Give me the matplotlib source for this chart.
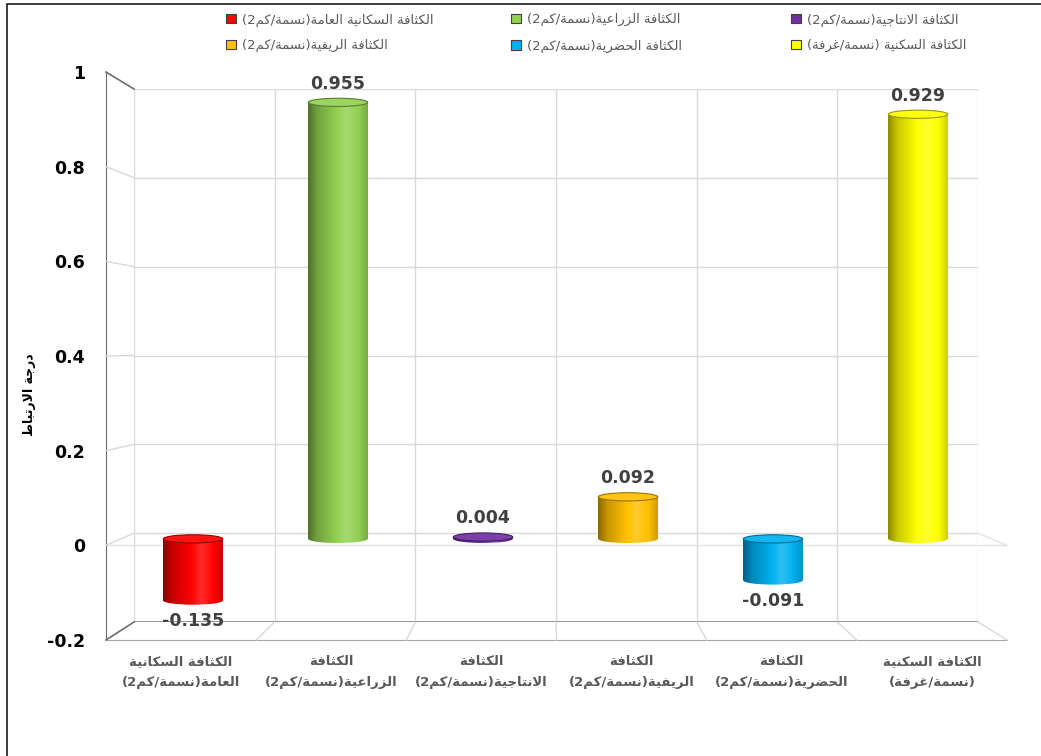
import numpy as np
import matplotlib
matplotlib.use('Agg')
import matplotlib.pyplot as plt
from matplotlib.patches import Ellipse, Patch, Rectangle
from matplotlib.lines import Line2D

# بيانات معاملات الارتباط
categories = [
    'الكثافة السكانية\nالعامة(نسمة/كم2)',
    'الكثافة\nالزراعية(نسمة/كم2)',
    'الكثافة\nالانتاجية(نسمة/كم2)',
    'الكثافة\nالريفية(نسمة/كم2)',
    'الكثافة\nالحضرية(نسمة/كم2)',
    'الكثافة السكنية\n(نسمة/غرفة)',
]
legend_names = [
    'الكثافة السكانية العامة(نسمة/كم2)',
    'الكثافة الزراعية(نسمة/كم2)',
    'الكثافة الانتاجية(نسمة/كم2)',
    'الكثافة الريفية(نسمة/كم2)',
    'الكثافة الحضرية(نسمة/كم2)',
    'الكثافة السكنية (نسمة/غرفة)',
]
values = [-0.135, 0.955, 0.004, 0.092, -0.091, 0.929]
colors = ['#FF0000', '#92D050', '#7030A0', '#FFC000', '#00B0F0', '#FFFF00']
yticks = [-0.2, 0, 0.2, 0.4, 0.6, 0.8, 1]
ytick_labels = ['-0.2', '0', '0.2', '0.4', '0.6', '0.8', '1']
ylabel = 'درجة الارتباط'

# ---- تشكيل الحروف العربية (matplotlib لا يدعم الوصل ولا الاتجاه) ----
FORMS = {
    'ا': (0xFE8D, 0xFE8E), 'أ': (0xFE83, 0xFE84), 'إ': (0xFE87, 0xFE88),
    'آ': (0xFE81, 0xFE82), 'ة': (0xFE93, 0xFE94), 'د': (0xFEA9, 0xFEAA),
    'ذ': (0xFEAB, 0xFEAC), 'ر': (0xFEAD, 0xFEAE), 'ز': (0xFEAF, 0xFEB0),
    'و': (0xFEED, 0xFEEE), 'ى': (0xFEEF, 0xFEF0),
    'ب': (0xFE8F, 0xFE90, 0xFE91, 0xFE92), 'ت': (0xFE95, 0xFE96, 0xFE97, 0xFE98),
    'ث': (0xFE99, 0xFE9A, 0xFE9B, 0xFE9C), 'ج': (0xFE9D, 0xFE9E, 0xFE9F, 0xFEA0),
    'ح': (0xFEA1, 0xFEA2, 0xFEA3, 0xFEA4), 'خ': (0xFEA5, 0xFEA6, 0xFEA7, 0xFEA8),
    'س': (0xFEB1, 0xFEB2, 0xFEB3, 0xFEB4), 'ش': (0xFEB5, 0xFEB6, 0xFEB7, 0xFEB8),
    'ص': (0xFEB9, 0xFEBA, 0xFEBB, 0xFEBC), 'ض': (0xFEBD, 0xFEBE, 0xFEBF, 0xFEC0),
    'ط': (0xFEC1, 0xFEC2, 0xFEC3, 0xFEC4), 'ظ': (0xFEC5, 0xFEC6, 0xFEC7, 0xFEC8),
    'ع': (0xFEC9, 0xFECA, 0xFECB, 0xFECC), 'غ': (0xFECD, 0xFECE, 0xFECF, 0xFED0),
    'ف': (0xFED1, 0xFED2, 0xFED3, 0xFED4), 'ق': (0xFED5, 0xFED6, 0xFED7, 0xFED8),
    'ك': (0xFED9, 0xFEDA, 0xFEDB, 0xFEDC), 'ل': (0xFEDD, 0xFEDE, 0xFEDF, 0xFEE0),
    'م': (0xFEE1, 0xFEE2, 0xFEE3, 0xFEE4), 'ن': (0xFEE5, 0xFEE6, 0xFEE7, 0xFEE8),
    'ه': (0xFEE9, 0xFEEA, 0xFEEB, 0xFEEC), 'ي': (0xFEF1, 0xFEF2, 0xFEF3, 0xFEF4),
}
MIRROR = {'(': ')', ')': '('}


def shape_line(s):
    out = []
    i = 0
    n = len(s)
    while i < n:
        c = s[i]
        if c not in FORMS:
            out.append(c)
            i += 1
            continue
        prev = s[i - 1] if i > 0 else None
        link_prev = prev in FORMS and len(FORMS[prev]) == 4
        if c == 'ل' and i + 1 < n and s[i + 1] == 'ا':
            out.append(chr(0xFEFC if link_prev else 0xFEFB))
            i += 2
            continue
        nxt = s[i + 1] if i + 1 < n else None
        link_next = len(FORMS[c]) == 4 and nxt in FORMS
        f = FORMS[c]
        if link_prev and link_next:
            g = f[3]
        elif link_prev:
            g = f[1]
        elif link_next:
            g = f[2]
        else:
            g = f[0]
        out.append(chr(g))
        i += 1
    # ترتيب العرض من اليمين إلى اليسار مع إبقاء الأرقام كما هي
    shaped = ''.join(out)
    runs = []
    i = 0
    while i < len(shaped):
        if shaped[i].isdigit():
            j = i
            while j < len(shaped) and shaped[j].isdigit():
                j += 1
            runs.append(shaped[i:j])
            i = j
        else:
            runs.append(MIRROR.get(shaped[i], shaped[i]))
            i += 1
    return ''.join(reversed(runs))


def ar(s):
    return '\n'.join(shape_line(line) for line in s.split('\n'))


def shade(c, f):
    c = np.array(matplotlib.colors.to_rgb(c))
    if f < 1:
        return c * f
    return c + (1 - c) * (f - 1)


def cyl_gradient(c, n=64):
    t = np.linspace(0, 1, n)
    fac = np.interp(t, [0, 0.15, 0.45, 0.65, 0.85, 1.0],
                    [0.55, 0.78, 0.98, 1.18, 1.0, 0.82])
    return np.array([[shade(c, f) for f in fac]])


plt.rcParams['font.family'] = ['DejaVu Sans']

W, H = 1041, 756
fig = plt.figure(figsize=(W / 100, H / 100), dpi=100)


def px_rect(left, top, right, bottom):
    return [left / W, 1 - bottom / H, (right - left) / W, (bottom - top) / H]


# الحدود الخارجية للمخطط
fig.add_artist(Rectangle((7 / W, -0.02), 1.0, 1 - 4 / H + 0.02,
                         transform=fig.transFigure, fill=False,
                         edgecolor='#1a1a1a', linewidth=1.2))

n = len(values)
xlim = (-0.5, n - 0.5)
ylim = (-0.2, 1.0)

# الجدار الخلفي
back = fig.add_axes(px_rect(134, 89, 978, 622))
back.set_xlim(xlim)
back.set_ylim(ylim)
back.axis('off')
for v in yticks[1:]:
    back.axhline(v, color='#d9d9d9', lw=1, zorder=1)
for k in range(n + 1):
    back.axvline(k - 0.5, color='#d9d9d9', lw=1, zorder=1)
back.axhline(-0.2, color='#808080', lw=1.2, zorder=2)

# المستوى الأمامي (عليه محور القيم وتسميات الفئات)
front = fig.add_axes(px_rect(106, 72, 1007, 640))
front.set_xlim(xlim)
front.set_ylim(ylim)
front.patch.set_alpha(0)
for sp in front.spines.values():
    sp.set_visible(False)
front.spines['left'].set_visible(True)
front.spines['left'].set_color('#6e6e6e')
front.spines['bottom'].set_visible(True)
front.spines['bottom'].set_color('#a6a6a6')
front.set_yticks(yticks)
front.set_yticklabels(ytick_labels, fontsize=12.5, fontweight='bold', color='black')
front.set_xticks(range(n))
front.set_xticklabels([ar(c) for c in categories], fontsize=9.5, fontweight='bold',
                      color='#595959', linespacing=1.8)
front.tick_params(axis='y', length=0, pad=15)
front.tick_params(axis='x', length=0, pad=11)
front.axhline(0, color='#e3e3e3', lw=1, zorder=1)


def to_fig(axes, x, y):
    return fig.transFigure.inverted().transform(axes.transData.transform((x, y)))


def link(x, y, color, lw=1.0):
    p0 = to_fig(front, x, y)
    p1 = to_fig(back, x, y)
    fig.add_artist(Line2D([p0[0], p1[0]], [p0[1], p1[1]], transform=fig.transFigure,
                          color=color, lw=lw, zorder=0.5))


# الجدار الجانبي والأرضية
for v in yticks[1:-1]:
    link(-0.5, v, '#d9d9d9')
link(-0.5, 1.0, '#6e6e6e', 1.2)
link(-0.5, -0.2, '#6e6e6e', 1.2)
for k in range(1, n + 1):
    link(k - 0.5, -0.2, '#d9d9d9')
link(n - 0.5, 0, '#e3e3e3')

# الأعمدة الأسطوانية
ax = fig.add_axes(px_rect(120.5, 81.8, 990.5, 630.3))
ax.patch.set_alpha(0)
ax.axis('off')
bw = 0.41
eh = 0.018
for i, (v, c) in enumerate(zip(values, colors)):
    lo, hi = min(0, v), max(0, v)
    grad = cyl_gradient(c)
    ax.imshow(grad, extent=(i - bw / 2, i + bw / 2, lo, hi), aspect='auto',
              interpolation='bilinear', zorder=3)
    bottom = Ellipse((i, lo), bw, eh, transform=ax.transData)
    im = ax.imshow(grad, extent=(i - bw / 2, i + bw / 2, lo - eh / 2, lo + eh / 2),
                   aspect='auto', interpolation='bilinear', zorder=3)
    im.set_clip_path(bottom)
    ax.add_patch(Ellipse((i, hi), bw, eh, facecolor=shade(c, 1.08),
                         edgecolor=shade(c, 0.6), lw=0.8, zorder=4))
    if v >= 0:
        ax.annotate(f'{v:.3f}', (i, hi), xytext=(0, 7), textcoords='offset points',
                    ha='center', va='bottom', fontsize=12.5, fontweight='bold',
                    color='#404040', zorder=5)
    else:
        ax.annotate(f'{v:.3f}', (i, lo), xytext=(0, -8), textcoords='offset points',
                    ha='center', va='top', fontsize=12.5, fontweight='bold',
                    color='#404040', zorder=5)
ax.set_xlim(xlim)
ax.set_ylim(ylim)

fig.text(30 / W, 1 - 395 / H, ar(ylabel), rotation=90, ha='center', va='center',
         fontsize=9, fontweight='bold', color='black')

# وسيلة الإيضاح: ثلاثة أعمدة في صفين
handles = [Patch(facecolor=c, edgecolor='#404040', linewidth=0.8) for c in colors]
for col, x0 in enumerate([226, 511, 791]):
    idx = [col, col + 3]
    leg = fig.legend([handles[j] for j in idx], [ar(legend_names[j]) for j in idx],
                     loc='upper left', bbox_to_anchor=(x0 / W, 1 - 13 / H),
                     frameon=False, fontsize=9.5, handlelength=0.75, handleheight=0.75,
                     handletextpad=0.5, labelspacing=1.0, borderpad=0,
                     borderaxespad=0, labelcolor='#595959')

fig.savefig('out.png', dpi=100)
